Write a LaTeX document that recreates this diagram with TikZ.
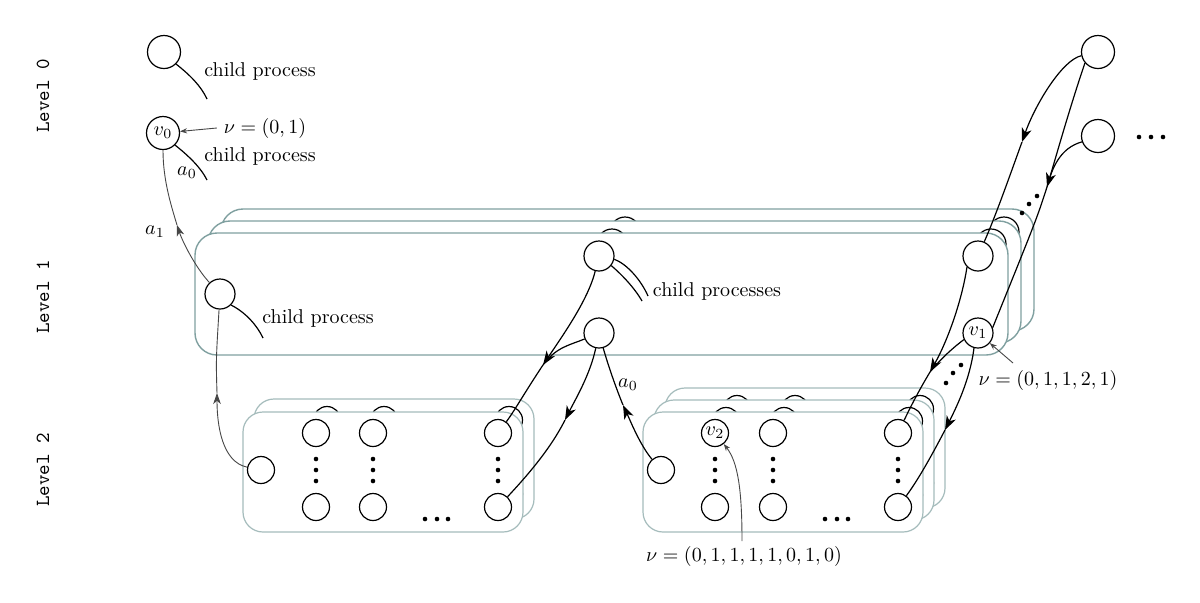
\documentclass[tikz,border=0pt]{standalone}
\usetikzlibrary{arrows.meta}
\definecolor{boxc}{RGB}{128,160,160}
\definecolor{lboxc}{RGB}{165,188,188}
\definecolor{annc}{RGB}{70,70,70}
\begin{document}
\begin{tikzpicture}[x=0.5pt,y=-0.5pt,
 cir/.style={circle,draw,line width=0.6pt,fill=white,inner sep=0pt},
 c0/.style={cir,minimum size=16.5pt},
 c1/.style={cir,minimum size=15pt},
 c2/.style={cir,minimum size=13.5pt},
 box1/.style={draw=boxc,fill=white,line width=0.7pt,rounded corners=11pt},
 box2/.style={draw=lboxc,fill=white,line width=0.6pt,rounded corners=10pt},
 edge/.style={line width=0.6pt},
 gedge/.style={line width=0.45pt,draw=annc},
 tip/.style={-{Stealth[length=7pt,width=5pt,inset=2pt]}},
 gtip/.style={-{Stealth[length=5.5pt,width=3.8pt,inset=1.6pt]}},
 atip/.style={-{Stealth[length=3.5pt,width=2.6pt]}},
 dotn/.style={circle,fill=black,inner sep=0pt,minimum size=2.3pt},
 lvl/.style={rotate=90,font=\ttfamily},
]
\fill[white] (0,0) rectangle (1200,602);
\useasboundingbox (0,0) rectangle (1200,602);

% level labels
\node[lvl] (lv0) at (43,96) {Level 0};
\node[lvl] (lv1) at (43,297) {Level 1};
\node[lvl] (lv2) at (43,470) {Level 2};

% ---------- Level 1 stack ----------
\foreach \s/\dx/\dy in {B/26/-24,M/13/-12}{
  \draw[box1] (195+\dx,233+\dy) rectangle (1008+\dx,355+\dy);
  \node[c1] (L1a\s) at (220+\dx,294+\dy) {};
  \node[c1] (L1b\s) at (599+\dx,256+\dy) {};
  \node[c1] (L1c\s) at (599+\dx,333+\dy) {};
  \node[c1] (L1d\s) at (978+\dx,256+\dy) {};
  \node[c1] (v1\s) at (978+\dx,333+\dy) {};
}
\draw[box1] (195,233) rectangle (1008,355);
\node[c1] (L1a) at (220,294) {};
\node[c1] (L1b) at (599,256) {};
\node[c1] (L1c) at (599,333) {};
\node[c1] (L1d) at (978,256) {};
\node[c1] (v1) at (978,333) {$v_1$};

% ---------- Level 2 left stack ----------
\draw[box2] (254,399) rectangle (534,519);
\foreach \n/\x/\y in {l/261/470,1t/316/433,1b/316/507,2t/373/433,2b/373/507,3t/498/433,3b/498/507}
  \node[c2] (L2LB\n) at (\x+11,\y-13) {};
\draw[box2] (243,412) rectangle (523,532);
\foreach \n/\x/\y in {l/261/470,1t/316/433,1b/316/507,2t/373/433,2b/373/507,3t/498/433,3b/498/507}
  \node[c2] (L2L\n) at (\x,\y) {};

% ---------- Level 2 right stack ----------
\foreach \s/\dx/\dy in {B/22/-24,M/11/-12}{
  \draw[box2] (643+\dx,412+\dy) rectangle (923+\dx,532+\dy);
  \foreach \n/\x/\y in {l/661/470,1t/715/433,1b/715/507,2t/773/433,2b/773/507,3t/898/433,3b/898/507}
    \node[c2] (L2R\s\n) at (\x+\dx,\y+\dy) {};
}
\draw[box2] (643,412) rectangle (923,532);
\node[c2] (L2Rl) at (661,470) {};
\node[c2] (v2) at (715,433) {$v_2$};
\node[c2] (L2R1b) at (715,507) {};
\node[c2] (L2R2t) at (773,433) {};
\node[c2] (L2R2b) at (773,507) {};
\node[c2] (L2R3t) at (898,433) {};
\node[c2] (L2R3b) at (898,507) {};

% dots in level 2
\foreach \c/\x in {L1/316,L2/373,L3/498,R1/715,R2/773,R3/898}
  \foreach \k/\y in {a/459,b/470,c/481}
    \node[dotn] (vd\c\k) at (\x,\y) {};
\foreach \k/\x in {a/425,b/437,c/448}{
  \node[dotn] (hdL\k) at (\x,519) {};
  \node[dotn] (hdR\k) at (\x+400,519) {};
}

% ---------- Level 0 ----------
\node[c0] (A0) at (164,52) {};
\node[c0] (v0) at (163,133) {$v_0$};
\node[c0] (R0a) at (1098,52) {};
\node[c0] (R0b) at (1098,136) {};
\foreach \k/\x in {a/1139,b/1151,c/1163}
  \node[dotn] (td\k) at (\x,137) {};

% child process stubs
\coordinate (A0e) at (207,99);
\draw[edge] (A0.-45) .. controls (190,75) and (201,86) .. (A0e);
\node (cp0) at (260,71) {child process};
\coordinate (v0e) at (207,180);
\draw[edge] (v0.-45) .. controls (190,157) and (201,168) .. (v0e);
\node (cp1) at (260,156) {child process};
\node (a0t) at (187,173) {$a_0$};
\node (nu0) at (265,128) {$\nu=(0,1)$};
\draw[gedge,atip] (nu0.west) -- (v0);

\coordinate (L1ae) at (263,338);
\draw[edge] (L1a.-45) .. controls (245,312) and (257,325) .. (L1ae);
\node (cp2) at (318,318) {child process};

\coordinate (L1bea) at (648,296);
\coordinate (L1beb) at (642,301);
\draw[edge] (L1b.-12) .. controls (627,264) and (641,280) .. (L1bea);
\draw[edge] (L1b.-38) .. controls (621,274) and (634,287) .. (L1beb);
\node (cp3) at (717,291) {child processes};

% gray edges on the left
\coordinate (J4) at (177,225);
\draw[gedge,gtip] (L1a) .. controls (196,268) and (183,243) .. (J4);
\draw[gedge] (J4) .. controls (171,205) and (163,180) .. (v0);
\node (a1t) at (155,232) {$a_1$};
\coordinate (J5) at (217,393);
\draw[gedge,gtip] (L2Ll) .. controls (222,462) and (217,425) .. (J5);
\draw[gedge] (J5) .. controls (216,360) .. (L1a);

% level 1 -> level 2 (left)
\coordinate (J2) at (543,365);
\draw[edge,tip] (L1b) .. controls (588,300) and (563,335) .. (J2);
\draw[edge] (J2) .. controls (525,392) and (515,410) .. (L2L3t);
\draw[edge] (L1c) .. controls (570,345) and (556,347) .. (J2);
\coordinate (J6) at (565,420);
\draw[edge,tip] (L1c) .. controls (590,375) and (575,400) .. (J6);
\draw[edge] (J6) .. controls (550,450) and (525,478) .. (L2L3b);
\coordinate (J7) at (623,405);
\draw[edge,tip] (L2Rl) .. controls (640,445) and (630,420) .. (J7);
\draw[edge] (J7) .. controls (616,388) and (608,365) .. (L1c);
\node (a0b) at (628,385) {$a_0$};

% level 0 -> level 1 (right)
\coordinate (J8) at (1022,142);
\draw[edge,tip] (R0a) .. controls (1062,60) and (1035,105) .. (J8);
\draw[edge] (J8) .. controls (1010,175) and (996,215) .. (L1d);
\coordinate (J3) at (1047,187);
\draw[edge,tip] (R0a.-140) .. controls (1071,104) and (1059,146) .. (J3);
\draw[edge] (J3) .. controls (1037,218) .. (v1.20);
\draw[edge] (R0b.-160) .. controls (1060,148) and (1052,168) .. (J3);
\foreach \k/\x/\y in {a/1022/213,b/1029/204,c/1037/196}
  \node[dotn] (dd\k) at (\x,\y) {};

% level 1 -> level 2 (right)
\coordinate (J1) at (930,372);
\draw[edge,tip] (L1d.-135) .. controls (962,300) and (948,340) .. (J1);
\draw[edge] (J1) .. controls (918,392) and (910,408) .. (L2R3t);
\draw[edge] (v1.-155) .. controls (950,350) and (938,362) .. (J1);
\coordinate (J9) at (945,430);
\draw[edge,tip] (v1.-105) .. controls (970,380) and (956,408) .. (J9);
\draw[edge] (J9) .. controls (932,455) and (918,480) .. (L2R3b);
\foreach \k/\x/\y in {a/946/383,b/953/373,c/961/365}
  \node[dotn] (ed\k) at (\x,\y) {};

% annotations
\node (nu1) at (1048,380) {$\nu=(0,1,1,2,1)$};
\coordinate (nu1s) at (1013,363);
\draw[gedge,atip] (nu1s) -- (v1);
\node (nu2) at (744,556) {$\nu=(0,1,1,1,1,0,1,0)$};
\coordinate (nu2s) at (742,541);
\draw[gedge,atip] (nu2s) .. controls (742,490) and (738,462) .. (v2);
\end{tikzpicture}
\end{document}
